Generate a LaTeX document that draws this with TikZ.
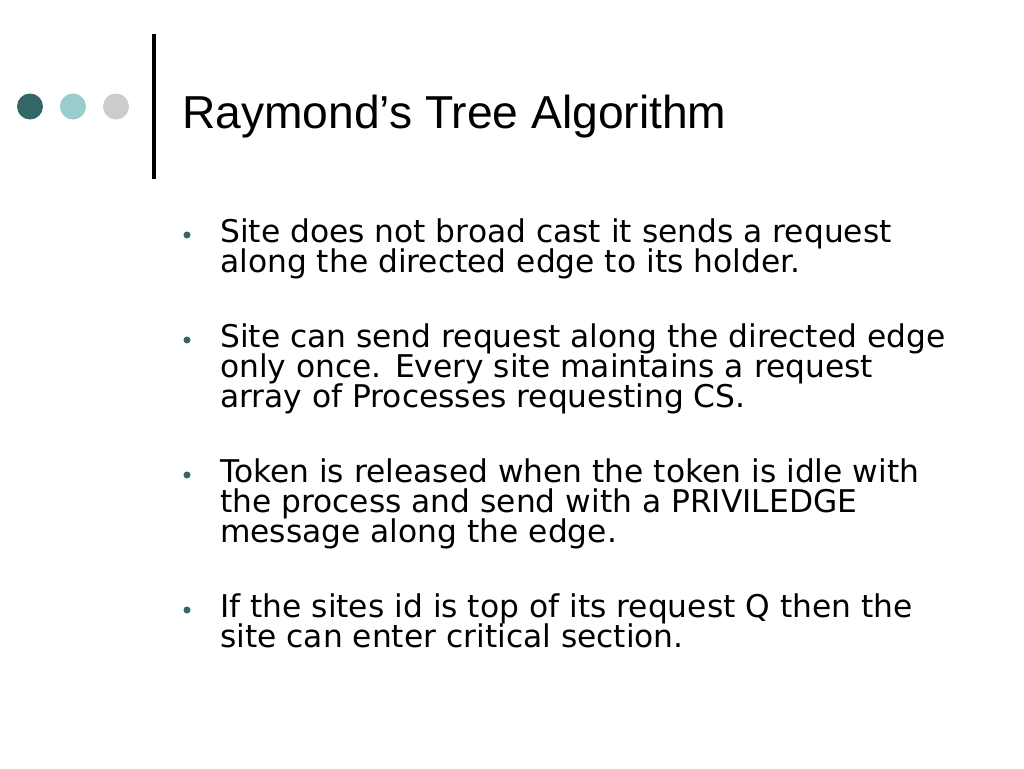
\documentclass[tikz,border=0pt]{standalone}
\usepackage{fontspec}
\setmainfont{DejaVu Sans}
\newfontfamily\titlefont{Liberation Sans}
\definecolor{darkteal}{HTML}{336666}
\definecolor{lightteal}{HTML}{99CCCC}
\definecolor{lightgrey}{HTML}{CCCCCC}
\begin{document}
\begin{tikzpicture}[x=1pt,y=-1pt,
  dot/.style={circle,fill=#1,draw=none,minimum size=26pt,inner sep=0pt},
  bul/.style={circle,fill=darkteal,draw=none,minimum size=7pt,inner sep=0pt},
  line/.style={anchor=base west,inner sep=0pt,font=\fontsize{31.3}{30}\selectfont},
  ttl/.style={anchor=base west,inner sep=0pt,font=\titlefont\fontsize{46.2}{50}\selectfont}]
\useasboundingbox[fill=white] (0,0) rectangle (1024,768);
\node[dot=darkteal] (d1) at (30,106.5) {};
\node[dot=lightteal] (d2) at (73,106.5) {};
\node[dot=lightgrey] (d3) at (116,106.5) {};
\draw[line width=4pt] (153.5,34) coordinate (bt) -- (153.5,179) coordinate (bb);
\node[ttl] (title) at (182,128) {Raymond’s Tree Algorithm};

\node[bul] (b1) at (187,235) {};
\node[line] (l11) at (220,242) {Site does not broad cast it sends a request};
\node[line] (l12) at (220,272) {along the directed edge to its holder.};

\node[bul] (b2) at (187,340) {};
\node[line] (l21) at (220,347) {Site can send request along the directed edge};
\node[line] (l22) at (220,377) {only once. Every site maintains a request};
\node[line] (l23) at (220,407) {array of Processes requesting CS.};

\node[bul] (b3) at (187,475) {};
\node[line] (l31) at (220,482) {Token is released when the token is idle with};
\node[line] (l32) at (220,512) {the process and send with a PRIVILEDGE};
\node[line] (l33) at (220,542) {message along the edge.};

\node[bul] (b4) at (187,610) {};
\node[line] (l41) at (220,617) {If the sites id is top of its request Q then the};
\node[line] (l42) at (220,647) {site can enter critical section.};
\end{tikzpicture}
\end{document}
